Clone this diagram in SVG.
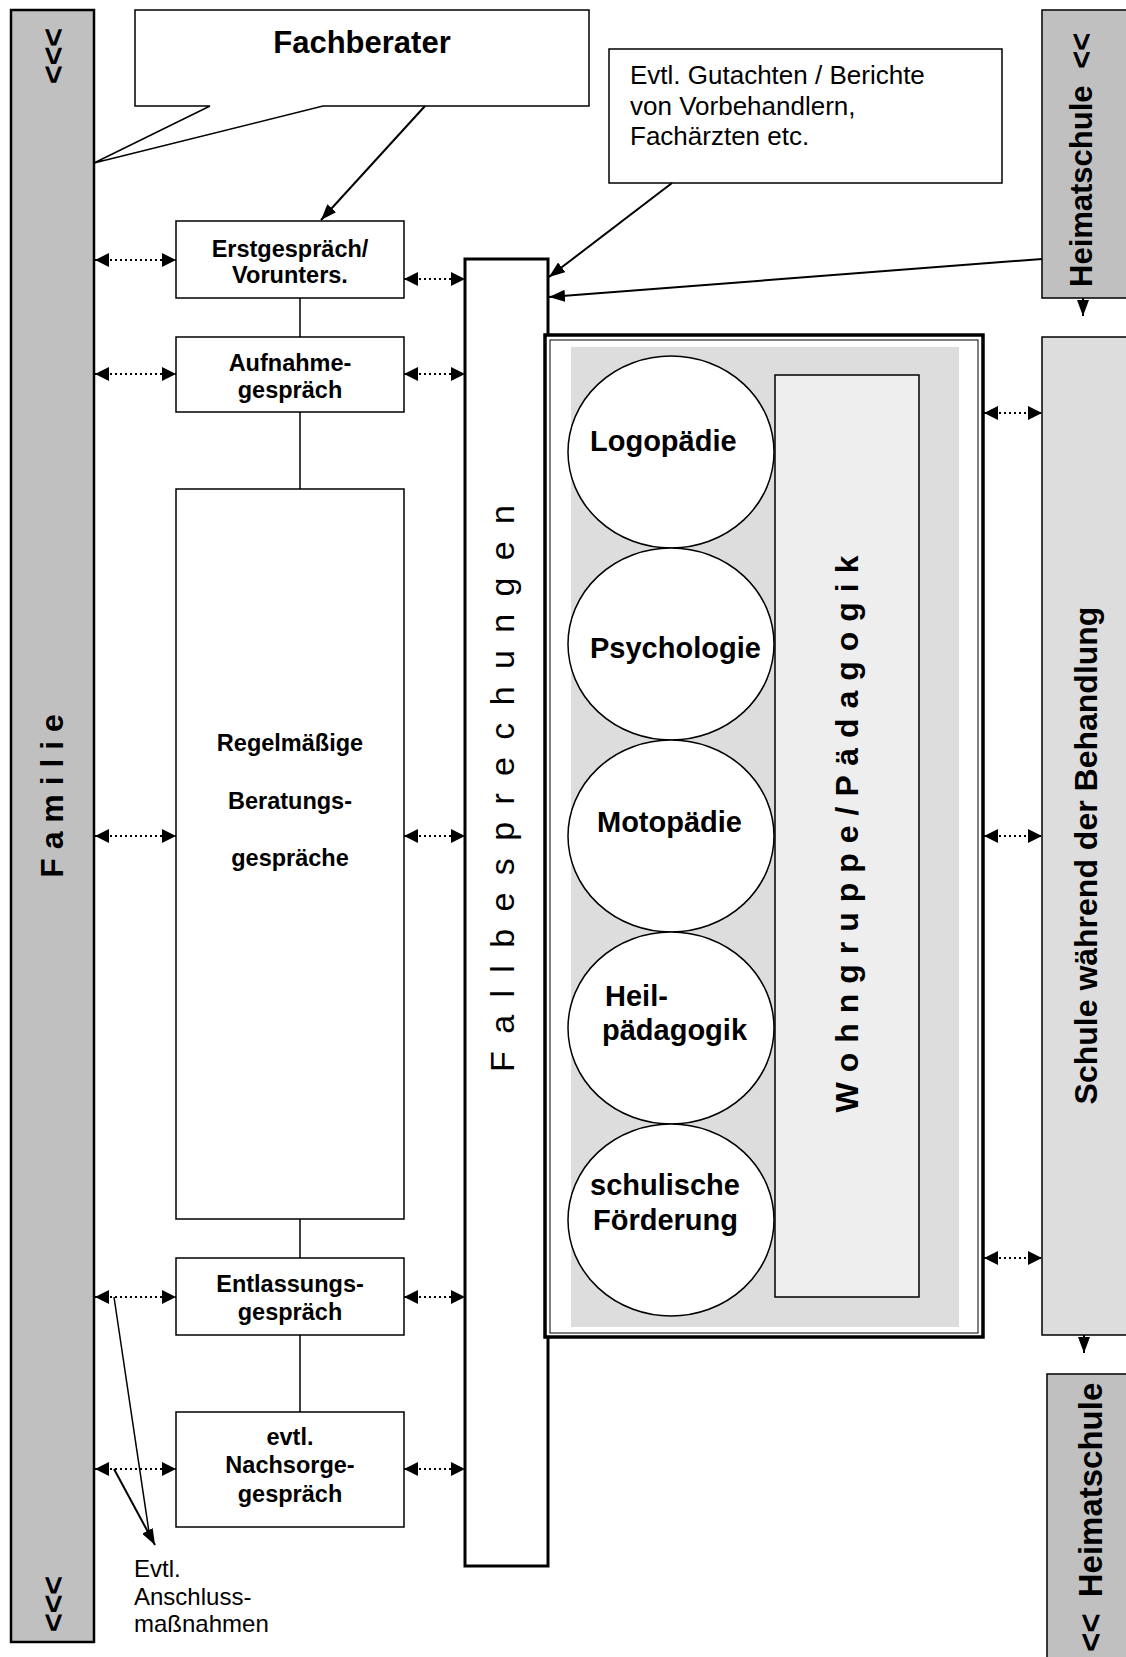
<svg xmlns="http://www.w3.org/2000/svg" width="1126" height="1657" viewBox="0 0 1126 1657">
<defs>
<style>
text { font-family: "Liberation Sans", Arial, sans-serif; fill: #000; }
.b { font-weight: bold; }
.box { fill: #fff; stroke: #000; stroke-width: 1.5; }
.dot { stroke: #000; stroke-width: 2; stroke-dasharray: 2 3; fill: none; marker-start: url(#ah); marker-end: url(#ah); }
.arr { stroke: #000; stroke-width: 2; fill: none; marker-end: url(#sa); }
.ln { stroke: #000; stroke-width: 1.5; fill: none; }
.sm { font-size: 23.5px; font-weight: bold; text-anchor: middle; }
.circ { fill: #fff; stroke: #000; stroke-width: 1.5; }
.ct { font-size: 29px; font-weight: bold; }
</style>
<marker id="ah" viewBox="0 0 14 14" refX="14" refY="7" markerWidth="14" markerHeight="14" markerUnits="userSpaceOnUse" orient="auto-start-reverse"><path d="M0,0 L14,7 L0,14 Z"/></marker>
<marker id="sa" viewBox="0 0 16 12" refX="16" refY="6" markerWidth="16" markerHeight="12" markerUnits="userSpaceOnUse" orient="auto"><path d="M0,0 L16,6 L0,12 Z"/></marker>
</defs>
<rect x="0" y="0" width="1126" height="1657" fill="#fff"/>

<g id="familie">
<rect x="11" y="10" width="83" height="1632" fill="#c0c0c0" stroke="#000" stroke-width="2.5"/>
<text class="b" font-size="32" text-anchor="middle" transform="translate(64,56) rotate(-90)">&lt;&lt;&lt;</text>
<text class="b" font-size="32" text-anchor="middle" transform="translate(63,796) rotate(-90)">F a m i l i e</text>
<text class="b" font-size="32" text-anchor="middle" transform="translate(64,1604) rotate(-90)">&lt;&lt;&lt;</text>
</g>

<g id="fachberater">
<path d="M135,10 H589 V106 H323 L94,163 L210,106 H135 Z" fill="#fff" stroke="#000" stroke-width="1.5"/>
<text class="b" font-size="31" text-anchor="middle" x="362" y="53">Fachberater</text>
</g>

<g id="gutachten">
<rect class="box" x="609" y="49" width="393" height="134"/>
<text font-size="26" x="630" y="84">Evtl. Gutachten / Berichte</text>
<text font-size="26" x="630" y="115">von Vorbehandlern,</text>
<text font-size="26" x="630" y="145">Fachärzten etc.</text>
</g>

<g id="heimatschule-oben">
<rect x="1042" y="10" width="100" height="288" fill="#c0c0c0" stroke="#000" stroke-width="1.5"/>
<text class="b" font-size="31" transform="translate(1092,287) rotate(-90)">Heimatschule <tspan dx="8">&lt;&lt;</tspan></text>
</g>

<g id="erstgespraech">
<rect class="box" x="176" y="221" width="228" height="77"/>
<text class="sm" x="290" y="257">Erstgespräch/</text>
<text class="sm" x="290" y="283">Vorunters.</text>
</g>

<g id="aufnahme">
<rect class="box" x="176" y="337" width="228" height="75"/>
<text class="sm" x="290" y="371">Aufnahme-</text>
<text class="sm" x="290" y="398">gespräch</text>
</g>

<g id="beratung">
<rect class="box" x="176" y="489" width="228" height="730"/>
<text class="sm" x="290" y="751">Regelmäßige</text>
<text class="sm" x="290" y="809">Beratungs-</text>
<text class="sm" x="290" y="866">gespräche</text>
</g>

<g id="entlassung">
<rect class="box" x="176" y="1258" width="228" height="77"/>
<text class="sm" x="290" y="1292">Entlassungs-</text>
<text class="sm" x="290" y="1320">gespräch</text>
</g>

<g id="nachsorge">
<rect class="box" x="176" y="1412" width="228" height="115"/>
<text class="sm" x="290" y="1445">evtl.</text>
<text class="sm" x="290" y="1473">Nachsorge-</text>
<text class="sm" x="290" y="1502">gespräch</text>
</g>

<g id="anschluss">
<text font-size="24" x="134" y="1577">Evtl.</text>
<text font-size="24" x="134" y="1605">Anschluss-</text>
<text font-size="24" x="134" y="1632">maßnahmen</text>
</g>

<g id="fallbesprechungen">
<rect x="465" y="259" width="83" height="1307" fill="#fff" stroke="#000" stroke-width="3"/>
<text font-size="34" text-anchor="middle" textLength="567" lengthAdjust="spacing" transform="translate(514,788.5) rotate(-90)">F a l l b e s p r e c h u n g e n</text>
</g>

<g id="behandlung">
<rect x="545" y="335" width="438" height="1002" fill="#fff" stroke="#000" stroke-width="3.5"/>
<rect x="550" y="340" width="428" height="993" fill="none" stroke="#000" stroke-width="1"/>
<rect x="571" y="347" width="388" height="980" fill="#dddddd"/>
</g>

<g id="wohngruppe">
<rect x="775" y="375" width="144" height="922" fill="#eeeeee" stroke="#000" stroke-width="1.5"/>
<text class="b" font-size="32" text-anchor="middle" textLength="557" lengthAdjust="spacing" transform="translate(858,834) rotate(-90)">W o h n g r u p p e / P ä d a g o g i k</text>
</g>

<g id="logopaedie">
<ellipse class="circ" cx="671" cy="452" rx="103" ry="96"/>
<text class="ct" x="590" y="451">Logopädie</text>
</g>
<g id="psychologie">
<ellipse class="circ" cx="671" cy="644" rx="103" ry="96"/>
<text class="ct" x="590" y="658">Psychologie</text>
</g>
<g id="motopaedie">
<ellipse class="circ" cx="671" cy="836" rx="103" ry="96"/>
<text class="ct" x="597" y="832">Motopädie</text>
</g>
<g id="heilpaedagogik">
<ellipse class="circ" cx="671" cy="1028" rx="103" ry="96"/>
<text class="ct" x="605" y="1006">Heil-</text>
<text class="ct" x="602" y="1040">pädagogik</text>
</g>
<g id="schulische-foerderung">
<ellipse class="circ" cx="671" cy="1220" rx="103" ry="96"/>
<text class="ct" x="590" y="1195">schulische</text>
<text class="ct" x="593" y="1230">Förderung</text>
</g>

<g id="schule">
<rect x="1042" y="337" width="100" height="998" fill="#dddddd" stroke="#000" stroke-width="1.5"/>
<text class="b" font-size="32" text-anchor="middle" transform="translate(1097,855.5) rotate(-90)">Schule während der Behandlung</text>
</g>

<g id="heimatschule-unten">
<rect x="1047" y="1374" width="100" height="300" fill="#c0c0c0" stroke="#000" stroke-width="1.5"/>
<text class="b" font-size="33" transform="translate(1102,1652) rotate(-90)">&lt;&lt; <tspan dx="7">Heimatschule</tspan></text>
</g>

<g id="connectors">
<line class="arr" x1="425" y1="106" x2="321" y2="220"/>
<line class="arr" x1="672" y1="183" x2="549" y2="277"/>
<line class="arr" x1="1042" y1="259" x2="549" y2="297"/>
<line class="arr" x1="1083" y1="298" x2="1083" y2="316"/>
<line class="arr" x1="1084" y1="1335" x2="1084" y2="1353"/>
<line class="ln" x1="300" y1="298" x2="300" y2="337"/>
<line class="ln" x1="300" y1="412" x2="300" y2="489"/>
<line class="ln" x1="300" y1="1219" x2="300" y2="1258"/>
<line class="ln" x1="300" y1="1335" x2="300" y2="1412"/>
<line class="dot" x1="95" y1="260" x2="176" y2="260"/>
<line class="dot" x1="95" y1="374" x2="176" y2="374"/>
<line class="dot" x1="95" y1="836" x2="176" y2="836"/>
<line class="dot" x1="95" y1="1297" x2="176" y2="1297"/>
<line class="dot" x1="95" y1="1469" x2="176" y2="1469"/>
<line class="dot" x1="404" y1="279" x2="465" y2="279"/>
<line class="dot" x1="404" y1="374" x2="465" y2="374"/>
<line class="dot" x1="404" y1="836" x2="465" y2="836"/>
<line class="dot" x1="404" y1="1297" x2="465" y2="1297"/>
<line class="dot" x1="404" y1="1469" x2="465" y2="1469"/>
<line class="dot" x1="984" y1="413" x2="1042" y2="413"/>
<line class="dot" x1="984" y1="836" x2="1042" y2="836"/>
<line class="dot" x1="984" y1="1258" x2="1042" y2="1258"/>
<line class="ln" x1="114" y1="1297" x2="149" y2="1532"/>
<line class="arr" x1="114" y1="1469" x2="155" y2="1545"/>
</g>
</svg>
